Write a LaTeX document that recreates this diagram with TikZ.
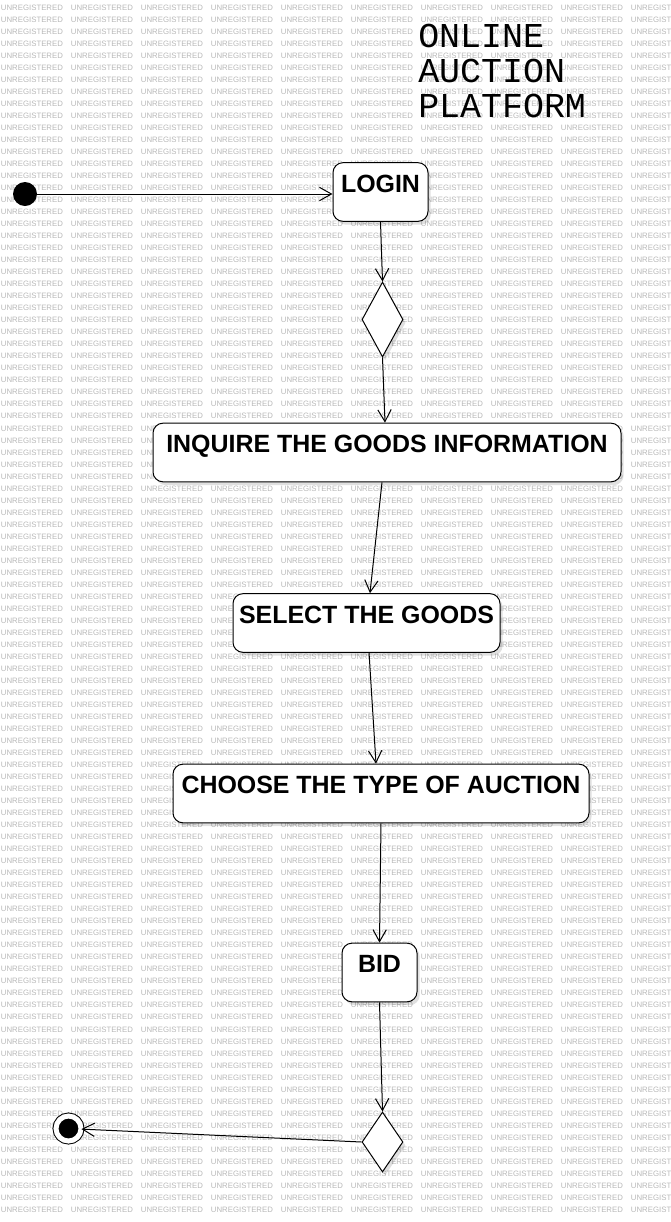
\documentclass[tikz,border=0pt]{standalone}
\usepackage{fontspec}
\setmainfont{Liberation Sans}
\newfontfamily\monofont{Liberation Mono}
\usetikzlibrary{arrows.meta,positioning,shapes.geometric,shadows}

\begin{document}
\begin{tikzpicture}[x=0.75pt,y=-0.75pt,
  state/.style={draw,fill=white,rounded corners=7.5pt,line width=0.75pt,
    font=\fontsize{18.7pt}{20pt}\selectfont\bfseries,
    text height=22pt,text depth=22pt,inner ysep=0pt,inner xsep=0pt,
    drop shadow={shadow xshift=2pt,shadow yshift=-2.5pt,opacity=0.12,fill=black}},
  choice/.style={diamond,draw,fill=white,line width=0.75pt,inner sep=0pt,
    minimum width=30.75pt,
    drop shadow={shadow xshift=2pt,shadow yshift=-2.5pt,opacity=0.12,fill=black}},
  startdot/.style={circle,fill=black,inner sep=0pt,minimum size=18pt},
  enddot/.style={circle,fill=black,draw=black,line width=0.75pt,double=white,
    double distance=3.75pt,inner sep=0pt,minimum size=18.75pt},
  flow/.style={-{Straight Barb[length=9pt,width=10pt]},line width=0.75pt},
  title/.style={font=\monofont\fontsize{26.2pt}{26.25pt}\selectfont,align=left,
    anchor=north west,inner sep=0pt},
  wm/.style={font=\fontsize{5.85pt}{6pt}\selectfont,text=black!28,inner sep=0pt,anchor=base west}]

  \useasboundingbox (0,0) rectangle (671,1222);

  % watermark
  \begin{scope}
    \clip (0,0) rectangle (671,1222);
    \foreach \r in {0,...,100} {
      \foreach \c in {0,...,8} {
        \node[wm] (wm-\r-\c) at ({\c*70+0.7},{10.3+\r*12.02}) {UNREGISTERED};
      }
      \node[wm] (wm-\r-9) at (630.7,{10.3+\r*12.02}) {UNREGIST};
    }
  \end{scope}

  \node[title] (title) at (418,24) {ONLINE\\AUCTION\\PLATFORM};

  % states
  \node[startdot] (init) at (25,194) {};
  \node[state,minimum width=71.25pt] (login) at (380.5,192) {LOGIN};
  \node[choice,minimum height=56.25pt] (fork) at (382.5,319.5) {};
  \node[state,minimum width=351pt] (inquire) at (387,452.5) {INQUIRE THE GOODS INFORMATION};
  \node[state,minimum width=200.25pt] (select) at (366.5,623) {SELECT THE GOODS};
  \node[state,minimum width=312pt] (auction) at (381,793.5) {CHOOSE THE TYPE OF AUCTION};
  \node[state,minimum width=56.25pt] (bid) at (379.5,972.5) {BID};
  \node[choice,minimum height=45pt] (merge) at (382.5,1142) {};
  \node[enddot] (final) at (68.5,1128.5) {};

  % transitions
  \draw[flow] (init.east) -- (init.east -| login.west);
  \draw[flow] (login.south) -- (fork.north);
  \draw[flow] (fork.south) -- ([xshift=-1.5pt]inquire.north);
  \draw[flow] ([xshift=-3.75pt]inquire.south) -- ([xshift=2.6pt]select.north);
  \draw[flow] ([xshift=1.9pt]select.south) -- ([xshift=-3.75pt]auction.north);
  \draw[flow] (auction.south) -- (bid.north);
  \draw[flow] (bid.south) -- (merge.north);
  \draw[flow] (merge.west) -- (final);
\end{tikzpicture}
\end{document}
